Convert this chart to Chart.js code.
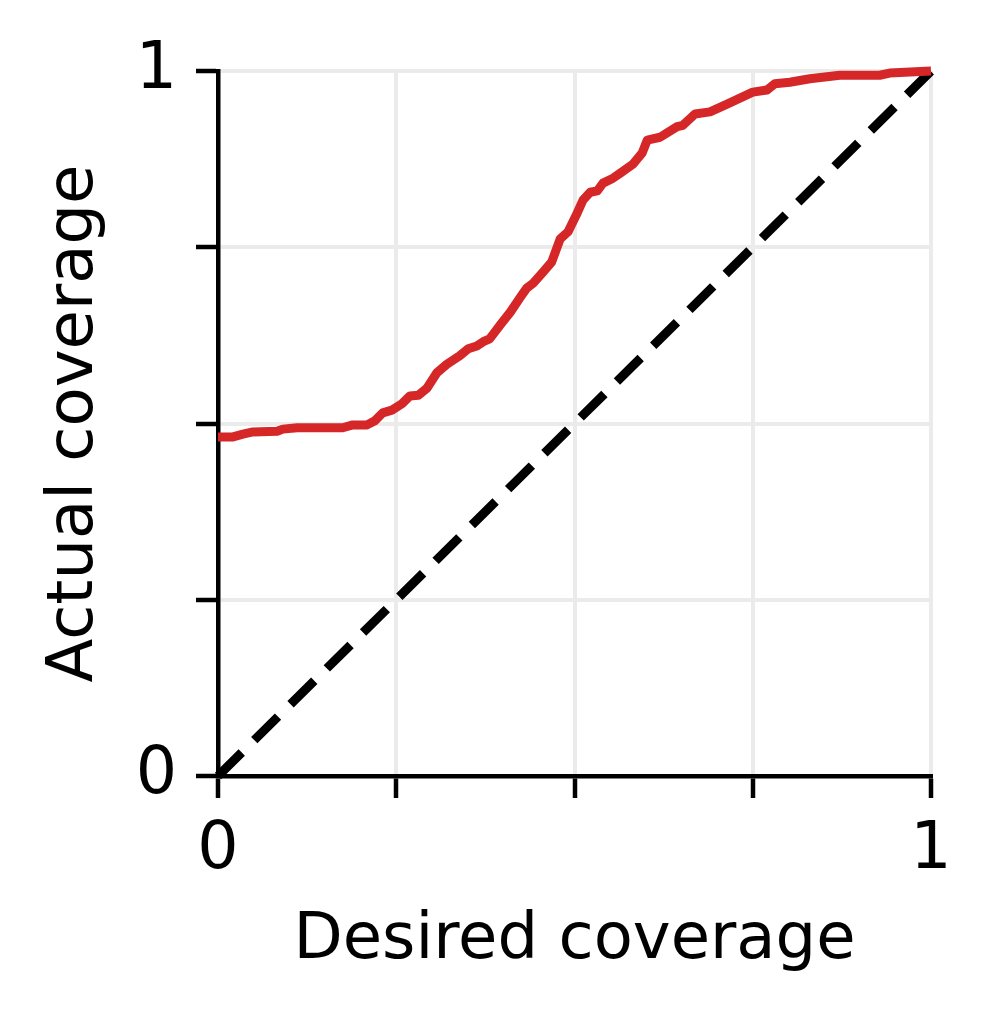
<!DOCTYPE html>
<html><head><meta charset="utf-8">
<script src="https://cdn.jsdelivr.net/npm/chart.js@4/dist/chart.umd.min.js"></script>
<style>html,body{margin:0;padding:0;background:#fff}#wrap{width:998px;height:1018px}</style>
</head><body><div id="wrap"><canvas id="c" width="998" height="1018"></canvas></div>
<script>
const desired = [0, 0.006, 0.021, 0.035, 0.049, 0.083, 0.091, 0.111, 0.175, 0.189, 0.209, 0.220, 0.231, 0.244, 0.258, 0.269, 0.281, 0.293, 0.307, 0.321, 0.339, 0.351, 0.363, 0.372, 0.381, 0.396, 0.410, 0.424, 0.433, 0.442, 0.456, 0.468, 0.480, 0.491, 0.504, 0.512, 0.522, 0.532, 0.540, 0.554, 0.564, 0.582, 0.595, 0.602, 0.620, 0.644, 0.652, 0.669, 0.690, 0.714, 0.750, 0.770, 0.781, 0.802, 0.830, 0.872, 0.928, 0.942, 1.0];
const actual = [0.481, 0.481, 0.481, 0.485, 0.488, 0.489, 0.492, 0.494, 0.494, 0.498, 0.498, 0.504, 0.515, 0.519, 0.528, 0.539, 0.540, 0.550, 0.572, 0.584, 0.596, 0.606, 0.610, 0.616, 0.620, 0.640, 0.658, 0.679, 0.692, 0.699, 0.715, 0.729, 0.762, 0.772, 0.799, 0.817, 0.828, 0.830, 0.841, 0.848, 0.855, 0.868, 0.884, 0.902, 0.906, 0.921, 0.923, 0.939, 0.942, 0.953, 0.970, 0.973, 0.982, 0.984, 0.989, 0.994, 0.994, 0.997, 1.0];
const diagX = [0, 1];
const diagY = [0, 1];
const tickValues = [0, 0.25, 0.5, 0.75, 1];
const tickLabels = ['0', '', '', '', '1'];
const xTitle = 'Desired coverage';
const yTitle = 'Actual coverage';

const FONT = 'DejaVu Sans';
function labelFor(v) {
  const i = tickValues.findIndex(t => Math.abs(t - v) < 1e-9);
  return i >= 0 ? tickLabels[i] : '';
}
function setTicks(scale) { scale.ticks = tickValues.map(v => ({value: v})); }

new Chart(document.getElementById('c'), {
  type: 'line',
  data: {
    datasets: [
      {
        data: desired.map((x, i) => ({x: x, y: actual[i]})),
        borderColor: '#d62728', borderWidth: 9, pointRadius: 0, tension: 0,
        borderJoinStyle: 'round', borderCapStyle: 'butt', fill: false, clip: false
      },
      {
        data: diagX.map((x, i) => ({x: x, y: diagY[i]})),
        borderColor: '#000000', borderWidth: 9, pointRadius: 0, tension: 0,
        borderDash: [33.4, 17.6], borderCapStyle: 'butt', fill: false, clip: false
      }
    ]
  },
  options: {
    responsive: false, animation: false, devicePixelRatio: 1,
    layout: {padding: {left: 0, right: 67, top: 71, bottom: 0}},
    plugins: {legend: {display: false}, tooltip: {enabled: false}},
    scales: {
      x: {
        type: 'linear', min: 0, max: 1,
        afterBuildTicks: setTicks,
        afterFit: s => { s.height = 242; },
        grid: {color: '#ebebeb', lineWidth: 4, tickColor: '#000', tickWidth: 4.5, tickLength: 22, drawTicks: true},
        border: {color: '#000', width: 4.5},
        ticks: {callback: v => labelFor(v), color: '#000', padding: 21, maxRotation: 0, autoSkip: false,
                font: {family: FONT, size: 65, lineHeight: 1}},
        title: {display: true, text: xTitle, color: '#000', font: {family: FONT, size: 64, lineHeight: 1},
                padding: {top: 0, bottom: 45}}
      },
      y: {
        type: 'linear', min: 0, max: 1,
        afterBuildTicks: setTicks,
        afterFit: s => { s.width = 218; },
        grid: {color: '#ebebeb', lineWidth: 4, tickColor: '#000', tickWidth: 4.5, tickLength: 22, drawTicks: true},
        border: {color: '#000', width: 4.5},
        ticks: {callback: v => labelFor(v), color: '#000', padding: 19, autoSkip: false,
                font: {family: FONT, size: 65, lineHeight: 1}},
        title: {display: true, text: yTitle, color: '#000', font: {family: FONT, size: 64, lineHeight: 1},
                padding: {top: 43, bottom: 0}}
      }
    }
  }
});
</script>
</body></html>
